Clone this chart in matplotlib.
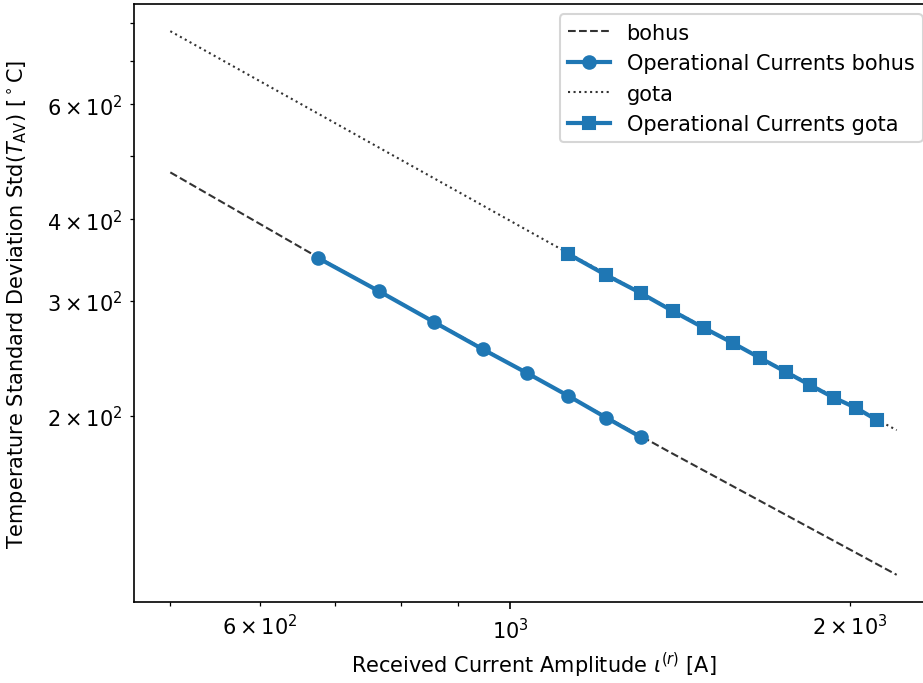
import matplotlib
matplotlib.use("Agg")
import matplotlib.pyplot as plt

# analytic curves (straight-ish in log-log)
bohus_x = [500, 665, 1380, 2200]
bohus_y = [472, 355.3, 176.4, 114]
gota_x = [500, 1105, 1575, 2200]
gota_y = [777, 361.3, 258.4, 190]

# operational current points
op_bohus_x = [676, 766, 856, 946, 1036, 1126, 1216, 1306]
op_bohus_y = [348.8, 310.0, 278.3, 252.7, 232.2, 214.4, 198.6, 185.3]
op_gota_x = [1125, 1215, 1305, 1395, 1485, 1575, 1665, 1755, 1845, 1935, 2025, 2115]
op_gota_y = [354.1, 328.8, 308.3, 288.9, 272.5, 258.4, 245.1, 233.3, 222.6, 213.1, 205.5, 196.7]

dpi = 150
fig = plt.figure(figsize=(923 / dpi, 684 / dpi), dpi=dpi)
ax = fig.add_axes([134 / 923, 81 / 684, 799 / 923, 598 / 684])

ax.plot(bohus_x, bohus_y, "--", color="k", lw=1, alpha=0.8, label="bohus")
ax.plot(op_bohus_x, op_bohus_y, "-o", color="#1f77b4", lw=2, ms=6,
        label="Operational Currents bohus")
ax.plot(gota_x, gota_y, ":", color="k", lw=1, alpha=0.8, label="gota")
ax.plot(op_gota_x, op_gota_y, "-s", color="#1f77b4", lw=2, ms=6,
        label="Operational Currents gota")

ax.set_xscale("log")
ax.set_yscale("log")
ax.set_xlabel(r"Received Current Amplitude $\iota^{(r)}$ [A]")
ax.set_ylabel(r"Temperature Standard Deviation Std($T_{\mathrm{AV}}$) [$^\circ$C]")
ax.yaxis.set_label_coords(-0.131, 0.5)
ax.legend(loc="upper right")

fig.savefig("out.png", dpi=dpi)
plt.close(fig)
